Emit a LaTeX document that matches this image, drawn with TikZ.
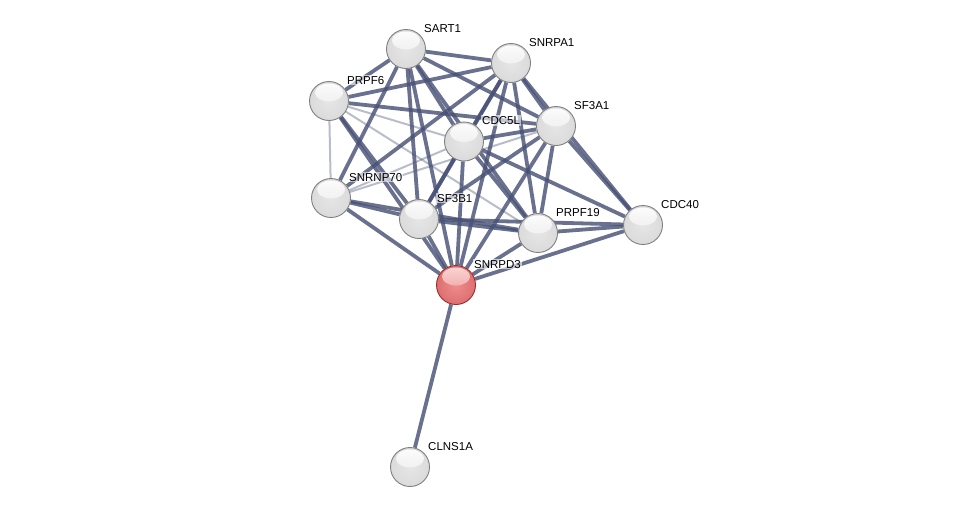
\documentclass[tikz,border=0pt]{standalone}
\usepackage{fontspec}
\setmainfont{Liberation Sans}
\pgfdeclarelayer{bg}
\pgfsetlayers{bg,main}
\definecolor{rlight}{RGB}{238,140,140}
\definecolor{rmid}{RGB}{222,112,112}
\definecolor{rdark}{RGB}{196,84,84}
\definecolor{rrim}{RGB}{150,45,45}
\pgfdeclareradialshading{wball}{\pgfpoint{0bp}{0bp}}{color(0bp)=(black!10); color(24bp)=(black!14); color(38bp)=(black!24); color(46bp)=(black!36); color(50bp)=(black!50)}
\pgfdeclareradialshading{rball}{\pgfpoint{0bp}{0bp}}{color(0bp)=(rlight); color(24bp)=(rmid); color(38bp)=(rdark!90!rmid); color(46bp)=(rdark); color(50bp)=(rrim)}
\definecolor{edgec}{RGB}{72,82,118}
\begin{document}
\begin{tikzpicture}[x=1pt,y=-1pt,
  prot/.style={circle,minimum size=39pt,inner sep=0pt,draw=black!50,line width=0.9pt,shading=wball,
    path picture={\shade[top color=white,bottom color=black!10,opacity=0.95] ([yshift=8.5pt]path picture bounding box.center) ellipse (14pt and 9pt);}},
  hit/.style={circle,minimum size=39pt,inner sep=0pt,draw=rrim,line width=0.9pt,shading=rball,
    path picture={\shade[top color=white!70!rlight,bottom color=rlight,opacity=0.95] ([yshift=8.5pt]path picture bounding box.center) ellipse (14pt and 9pt);}},
  lbl/.style={anchor=base west,inner sep=1pt,fill=white,fill opacity=0.6,text opacity=1,font=\fontsize{11.5}{13}\selectfont},
  strong/.style={draw=edgec,line width=3.8pt,draw opacity=0.82},
  weak/.style={draw=edgec,line width=2pt,draw opacity=0.38}]
\useasboundingbox (0,0) rectangle (976,512);
\node[prot] (SART1) at (406,49) {};
\node[prot] (SNRPA1) at (511,63) {};
\node[prot] (PRPF6) at (329,101) {};
\node[prot] (CDC5L) at (464,141.5) {};
\node[prot] (SF3A1) at (556,126) {};
\node[prot] (SNRNP70) at (331,198) {};
\node[prot] (SF3B1) at (419,219) {};
\node[prot] (PRPF19) at (538,233) {};
\node[prot] (CDC40) at (643,225) {};
\node[hit] (SNRPD3) at (456,285) {};
\node[prot] (CLNS1A) at (410,467) {};
\foreach \n/\x/\y in {SART1/406/49,SNRPA1/511/63,PRPF6/329/101,CDC5L/464/141.5,SF3A1/556/126,SNRNP70/331/198,SF3B1/419/219,PRPF19/538/233,CDC40/643/225,SNRPD3/456/285,CLNS1A/410/467}
  \node[lbl] (L\n) at (\x+17,\y-17) {\n};
\begin{pgfonlayer}{bg}
\foreach \a/\b in {SART1/SNRPA1,SART1/PRPF6,SART1/SNRNP70,SART1/SF3B1,SART1/CDC5L,SART1/SF3A1,SART1/SNRPD3,SART1/PRPF19,
  PRPF6/SNRPA1,PRPF6/SF3A1,PRPF6/SF3B1,PRPF6/SNRPD3,
  SNRPA1/CDC5L,SNRPA1/SF3A1,SNRPA1/SNRNP70,SNRPA1/SF3B1,SNRPA1/PRPF19,SNRPA1/SNRPD3,SNRPA1/CDC40,
  SF3A1/CDC5L,SF3A1/SF3B1,SF3A1/PRPF19,SF3A1/CDC40,SF3A1/SNRPD3,
  CDC5L/SF3B1,CDC5L/PRPF19,CDC5L/CDC40,CDC5L/SNRPD3,
  SNRNP70/SF3B1,SNRNP70/SNRPD3,SNRNP70/PRPF19,
  SF3B1/PRPF19,SF3B1/SNRPD3,SF3B1/CDC40,
  PRPF19/CDC40,PRPF19/SNRPD3,CDC40/SNRPD3,SNRPD3/CLNS1A}
  \draw[strong] (\a) -- (\b);
\foreach \a/\b in {PRPF6/SNRNP70,PRPF6/PRPF19,PRPF6/CDC5L,SNRNP70/CDC5L,SNRNP70/SF3A1}
  \draw[weak] (\a) -- (\b);
\end{pgfonlayer}
\end{tikzpicture}
\end{document}
